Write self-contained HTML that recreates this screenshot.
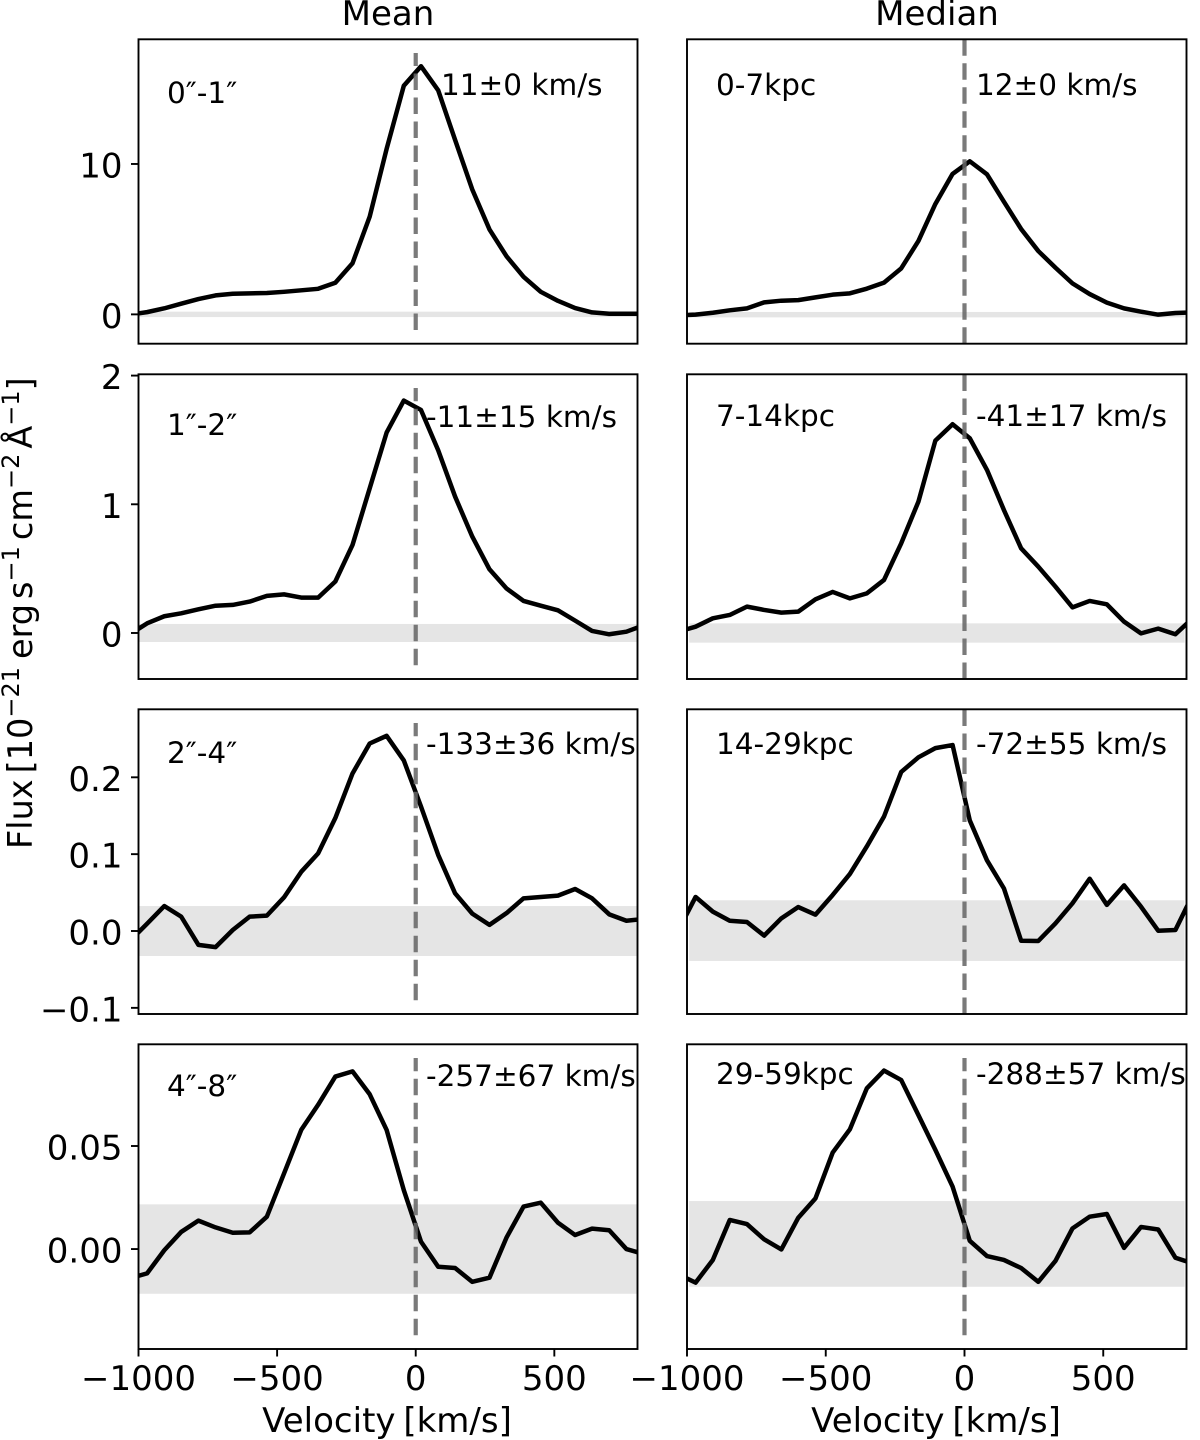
<!DOCTYPE html>
<html>
<head>
<meta charset="utf-8">
<title>Velocity profiles</title>
<style>
html,body{margin:0;padding:0;background:#fff;}
svg{display:block;font-family:"DejaVu Sans","Liberation Sans",sans-serif;}
</style>
</head>
<body>
<svg id="chart" xmlns="http://www.w3.org/2000/svg" width="1200" height="1440" viewBox="0 0 1200 1440">
  <rect x="0" y="0" width="1200" height="1440" fill="#fff"/>
  <text x="388" y="25" font-size="34" text-anchor="middle">Mean</text>
  <text x="937" y="25" font-size="34" text-anchor="middle">Median</text>
  <text transform="translate(32,849) rotate(-90)" font-size="33.5">Flux<tspan dx="6">[10</tspan><tspan font-size="24" dy="-13">−21</tspan><tspan dy="13" dx="8">erg</tspan><tspan dx="5">s</tspan><tspan font-size="24" dy="-13">−1</tspan><tspan dy="13" dx="6">cm</tspan><tspan font-size="24" dy="-13">−2</tspan><tspan dy="13" dx="5">Å</tspan><tspan font-size="24" dy="-13">−1</tspan><tspan dy="13">]</tspan></text>
  <text x="387" y="1432" font-size="34" text-anchor="middle" word-spacing="-3">Velocity [km/s]</text>
  <text x="936" y="1432" font-size="34" text-anchor="middle" word-spacing="-3">Velocity [km/s]</text>
</svg>
<script>
// Velocity grid (km/s), shared by all spectra
const velocity = [-1031,-969,-907,-846,-784,-722,-660,-599,-537,-475,-413,-352,-290,-228,-166,-105,-43,19,81,142,204,266,328,389,451,513,575,636,698,760,822];

// Flux series
const meanFlux0to1 = [-0.02,0.15,0.40,0.71,1.02,1.26,1.37,1.40,1.42,1.50,1.60,1.70,2.10,3.40,6.50,11.0,15.2,16.5,14.9,11.6,8.30,5.65,3.85,2.50,1.50,0.90,0.42,0.13,0.04,0.04,0.04];
const meanFlux1to2 = [-0.01,0.075,0.13,0.153,0.184,0.212,0.218,0.244,0.288,0.30,0.275,0.275,0.40,0.684,1.124,1.557,1.806,1.733,1.42,1.06,0.749,0.495,0.345,0.249,0.212,0.176,0.096,0.016,-0.01,0.01,0.06];
const meanFlux2to4 = [-0.013,0.0095,0.0325,0.0187,-0.018,-0.021,0.0013,0.0187,0.02,0.0438,0.077,0.101,0.147,0.205,0.244,0.254,0.222,0.162,0.099,0.049,0.0226,0.008,0.0234,0.0425,0.0443,0.046,0.0547,0.0425,0.0217,0.0134,0.0156];
const meanFlux4to8 = [-0.0142,-0.0118,-0.0006,0.0083,0.0138,0.0105,0.0079,0.0081,0.0157,0.0367,0.0578,0.07,0.0837,0.0862,0.0751,0.0578,0.0286,0.0036,-0.0086,-0.0092,-0.0159,-0.0139,0.0057,0.0206,0.0225,0.0128,0.0068,0.0099,0.0091,0,-0.0024];
const medianFlux0to7 = [-0.07,-0.02,0.11,0.27,0.40,0.80,0.91,0.95,1.13,1.31,1.40,1.71,2.11,3.06,4.88,7.34,9.34,10.18,9.31,7.49,5.68,4.21,3.10,2.06,1.35,0.78,0.40,0.18,-0.02,0.09,0.13];
const medianFlux7to14 = [0.01,0.049,0.114,0.14,0.205,0.179,0.158,0.166,0.262,0.319,0.269,0.308,0.412,0.697,1.021,1.495,1.622,1.513,1.267,0.956,0.658,0.515,0.36,0.199,0.249,0.223,0.088,-0.003,0.034,-0.01,0.114];
const medianFlux14to29 = [0.001,0.0443,0.0252,0.0134,0.0117,-0.006,0.0165,0.0312,0.0213,0.0469,0.0742,0.11,0.149,0.207,0.226,0.238,0.242,0.144,0.092,0.0555,-0.0126,-0.013,0.01,0.036,0.068,0.034,0.0594,0.0317,0.0004,0.0013,0.0469];
const medianFlux29to59 = [-0.0123,-0.0163,-0.0053,0.0141,0.0121,0.0047,-0.0002,0.0152,0.0246,0.0468,0.0581,0.078,0.0866,0.082,0.065,0.0481,0.0303,0.004,-0.0034,-0.0053,-0.0092,-0.0159,-0.0057,0.01,0.0157,0.017,0.0006,0.0107,0.0095,-0.0042,-0.007];

// Noise bands [low, high]
const meanBand0to1 = [-0.18,0.18];
const meanBand1to2 = [-0.07,0.07];
const meanBand2to4 = [-0.0325,0.0325];
const meanBand4to8 = [-0.0217,0.0217];
const medianBand0to7 = [-0.2,0.16];
const medianBand7to14 = [-0.075,0.075];
const medianBand14to29 = [-0.039,0.04];
const medianBand29to59 = [-0.0183,0.0233];

// Text labels
const meanRegionLabels = ['0″-1″','1″-2″','2″-4″','4″-8″'];
const medianRegionLabels = ['0-7kpc','7-14kpc','14-29kpc','29-59kpc'];
const meanShiftLabels = ['11±0 km/s','-11±15 km/s','-133±36 km/s','-257±67 km/s'];
const medianShiftLabels = ['12±0 km/s','-41±17 km/s','-72±55 km/s','-288±57 km/s'];

// Axis ticks
const xTickValues = [-1000,-500,0,500];
const xTickLabels = ['−1000','−500','0','500'];
const yTickValuesRow1 = [0,10];
const yTickLabelsRow1 = ['0','10'];
const yTickValuesRow2 = [0,1,2];
const yTickLabelsRow2 = ['0','1','2'];
const yTickValuesRow3 = [-0.1,0,0.1,0.2];
const yTickLabelsRow3 = ['−0.1','0.0','0.1','0.2'];
const yTickValuesRow4 = [0,0.05];
const yTickLabelsRow4 = ['0.00','0.05'];

// Axis limits
const xLimits = [-1000,800];
const yLimitsRow1 = [-1.95,18.29];
const yLimitsRow2 = [-0.3575,2.01];
const yLimitsRow3 = [-0.108,0.2885];
const yLimitsRow4 = [-0.0485,0.09935];

// Layout
const columnEdges = [[138.5,637.5],[687,1186.5]];
const rowEdges = [[39.3,343.7],[374.3,679],[709.3,1014],[1044.3,1349]];
const bandSpanByColumn = [[-1000,800],[-992,793]];
const regionLabelPlacement = [[167,103],[167,435],[167,763],[167,1096],[716,95],[716,426],[716,754],[716,1084]];
const shiftLabelPlacement = [[441,95],[426,427],[426,754],[426,1086],[976,95],[976,426],[976,754],[976,1084]];
const zeroLineFractions = [[0.045,0.955],[0.045,0.955],[0.045,0.955],[0.045,0.955],[0,1],[0,1],[0,1],[0.045,0.955]];

const yLimitsByRow = [yLimitsRow1,yLimitsRow2,yLimitsRow3,yLimitsRow4];
const yTickValuesByRow = [yTickValuesRow1,yTickValuesRow2,yTickValuesRow3,yTickValuesRow4];
const yTickLabelsByRow = [yTickLabelsRow1,yTickLabelsRow2,yTickLabelsRow3,yTickLabelsRow4];
const fluxByPanel = [meanFlux0to1,meanFlux1to2,meanFlux2to4,meanFlux4to8,medianFlux0to7,medianFlux7to14,medianFlux14to29,medianFlux29to59];
const bandByPanel = [meanBand0to1,meanBand1to2,meanBand2to4,meanBand4to8,medianBand0to7,medianBand7to14,medianBand14to29,medianBand29to59];
const regionByPanel = meanRegionLabels.concat(medianRegionLabels);
const shiftByPanel = meanShiftLabels.concat(medianShiftLabels);

const svg = document.getElementById('chart');
const NS = 'http://www.w3.org/2000/svg';
function make(tag, attrs, parent) {
  const el = document.createElementNS(NS, tag);
  for (const k in attrs) el.setAttribute(k, attrs[k]);
  parent.appendChild(el);
  return el;
}
function xScale(col, v) {
  const e = columnEdges[col];
  return e[0] + (v - xLimits[0]) / (xLimits[1] - xLimits[0]) * (e[1] - e[0]);
}
function yScale(row, f) {
  const e = rowEdges[row], l = yLimitsByRow[row];
  return e[1] - (f - l[0]) / (l[1] - l[0]) * (e[1] - e[0]);
}

const defs = make('defs', {}, svg);

for (let p = 0; p < 8; p++) {
  const col = p < 4 ? 0 : 1;
  const row = p % 4;
  const L = columnEdges[col][0], R = columnEdges[col][1], T = rowEdges[row][0], B = rowEdges[row][1];

  const g = make('g', {}, svg);
  
  

  const clip = make('clipPath', {id: 'clip' + p}, defs);
  make('rect', {x: L, y: T, width: R - L, height: B - T}, clip);

  const span = bandSpanByColumn[col];
  const band = make('rect', {
    x: xScale(col, span[0]),
    y: yScale(row, bandByPanel[p][1]),
    width: xScale(col, span[1]) - xScale(col, span[0]),
    height: yScale(row, bandByPanel[p][0]) - yScale(row, bandByPanel[p][1]),
    fill: '#e5e5e5'
  }, g);
  
  

  const pts = velocity.map((v, i) => xScale(col, v).toFixed(2) + ',' + yScale(row, fluxByPanel[p][i]).toFixed(2)).join(' ');
  const line = make('polyline', {
    points: pts, fill: 'none', stroke: '#000', 'stroke-width': 4.5,
    'stroke-linejoin': 'round', 'clip-path': 'url(#clip' + p + ')'
  }, g);
  
  

  const fr = zeroLineFractions[p];
  const dash = make('line', {
    x1: xScale(col, 0), x2: xScale(col, 0),
    y1: B - fr[0] * (B - T), y2: B - fr[1] * (B - T),
    stroke: '#666', 'stroke-opacity': 0.87, 'stroke-width': 4.2, 'stroke-dasharray': '16.5 7.5'
  }, g);
  
  

  const frame = make('rect', {x: L, y: T, width: R - L, height: B - T, fill: 'none', stroke: '#000', 'stroke-width': 1.9}, g);
  
  

  const region = make('text', {x: regionLabelPlacement[p][0], y: regionLabelPlacement[p][1], 'font-size': 29.5}, g);
  region.textContent = regionByPanel[p];
  
  

  const shift = make('text', {x: shiftLabelPlacement[p][0], y: shiftLabelPlacement[p][1], 'font-size': 29.5}, g);
  shift.textContent = shiftByPanel[p];
  
  

  if (col === 0) {
    yTickValuesByRow[row].forEach((t, i) => {
      const y = yScale(row, t);
      const tick = make('line', {x1: L - 7.5, x2: L, y1: y, y2: y, stroke: '#000', 'stroke-width': 1.9}, g);
      
      
      const lab = make('text', {x: L - 16, y: y + 13.5, 'font-size': 34, 'text-anchor': 'end'}, g);
      lab.textContent = yTickLabelsByRow[row][i];
      
      
    });
  }
  if (row === 3) {
    xTickValues.forEach((t, i) => {
      const x = xScale(col, t);
      const tick = make('line', {x1: x, x2: x, y1: B, y2: B + 7.5, stroke: '#000', 'stroke-width': 1.9}, g);
      
      
      const lab = make('text', {x: x, y: B + 41, 'font-size': 34, 'text-anchor': 'middle'}, g);
      lab.textContent = xTickLabels[i];
      
      
    });
  }
}
</script>
</body>
</html>
